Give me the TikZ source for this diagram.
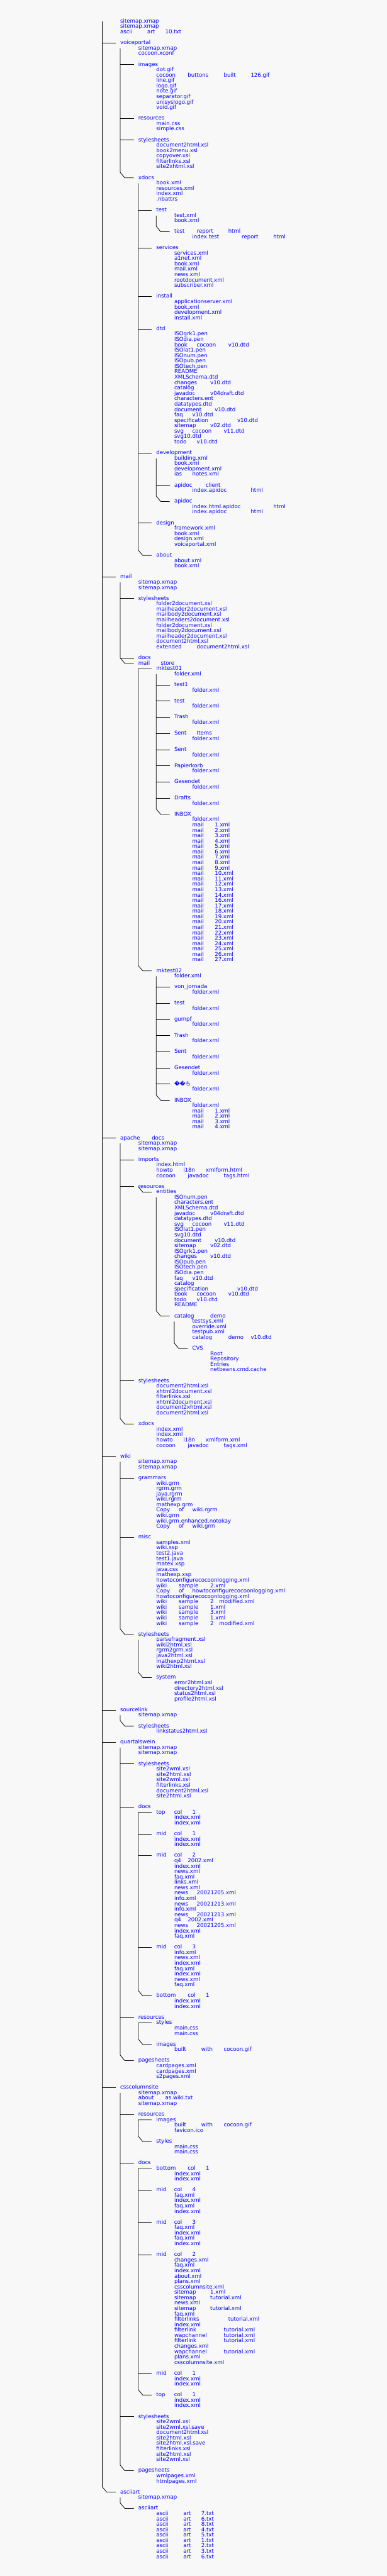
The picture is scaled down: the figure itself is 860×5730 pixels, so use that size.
\documentclass[tikz,border=0pt]{standalone}
\usepackage{fontspec}
\usetikzlibrary{calc}
\newfontfamily\treefont{DejaVu Sans}
\newfontfamily\cjkfont{Noto Sans CJK JP}
\definecolor{pagebg}{HTML}{F8F8F8}
\definecolor{fileblue}{HTML}{0000FF}
\definecolor{twigcolor}{HTML}{000000}

% one character cell of the listing
\newlength{\cellw}
\setlength{\cellw}{10pt}

% words of a name sit at their character column (underscore = gap)
\newcount\wordlen
\def\lenstop{\lenstop}
\def\lencount#1{\ifx#1\lenstop\else\advance\wordlen by 1\relax\expandafter\lencount\fi}
\def\spread#1{\spreadnext#1_\spreadend}
\def\spreadnext#1_#2\spreadend{%
  \wordlen=1\relax
  \lencount#1\lenstop
  \makebox[0pt][l]{#1}%
  \if\relax\detokenize{#2}\relax\else
    \hspace*{\wordlen\cellw}%
    \spreadnext#2\spreadend
  \fi}

% connectors: side branch, last branch (with vertical), first+last branch
\newcommand{\twig}[2]{\draw[twig] (#1 |- #2.west) -- ([xshift=-\cellw]#2.west);}
\newcommand{\lasttwig}[3]{\draw[twig] (#1 |- #2.west) -- ($(#1 |- #3.west)+(0,-1)$)
    -- ($(#1 |- #3.west)+(1,0)$) -- ([xshift=-\cellw]#3.west);}
\newcommand{\toptwig}[3]{\draw[twig] ([xshift=-\cellw]#2.west) -- (#1 |- #2.west)
    -- ($(#1 |- #3.west)+(0,-1)$) -- ($(#1 |- #3.west)+(1,0)$) -- ([xshift=-\cellw]#3.west);}

\begin{document}
\begin{tikzpicture}[
    x=10pt, y=-12pt, shift={(227.3pt,-47.5pt)},
    fname/.style={
        anchor=west, inner sep=0pt, text height=9pt, text depth=2.2pt,
        text=fileblue, font=\treefont\fontsize{12pt}{12pt}\selectfont
    },
    twig/.style={
        draw=twigcolor, line width=1.1pt
    }
]

% Page
\useasboundingbox (-227.3pt,47.5pt) rectangle (632.7pt,-5682.5pt);
\fill[pagebg] (-227.3pt,47.5pt) rectangle (632.7pt,-5682.5pt);

% Root of the tree
\coordinate (top) at (0,0);
\foreach \rw/\lbl in {0/sitemap.xmap,1/sitemap.xmap,2/\spread{ascii_art_10.txt}}
    \node[fname] (r\rw) at (4,\rw) {\lbl};

% voiceportal
\node[fname] (r4) at (4,4) {voiceportal};
\foreach \rw/\lbl in {5/sitemap.xmap,6/cocoon.xconf}
    \node[fname] (r\rw) at (8,\rw) {\lbl};
\node[fname] (r8) at (8,8) {images};
\foreach \rw/\lbl in {9/dot.gif,10/\spread{cocoon_buttons_built_126.gif},11/line.gif,12/logo.gif,
    13/note.gif,14/separator.gif,15/unisyslogo.gif,16/void.gif}
    \node[fname] (r\rw) at (12,\rw) {\lbl};
\node[fname] (r18) at (8,18) {resources};
\foreach \rw/\lbl in {19/main.css,20/simple.css}
    \node[fname] (r\rw) at (12,\rw) {\lbl};
\node[fname] (r22) at (8,22) {stylesheets};
\foreach \rw/\lbl in {23/document2html.xsl,24/book2menu.xsl,25/copyover.xsl,26/filterlinks.xsl,27/site2xhtml.xsl}
    \node[fname] (r\rw) at (12,\rw) {\lbl};
\node[fname] (r29) at (8,29) {xdocs};
\foreach \rw/\lbl in {30/book.xml,31/resources.xml,32/index.xml,33/.nbattrs}
    \node[fname] (r\rw) at (12,\rw) {\lbl};
\node[fname] (r35) at (12,35) {test};
\foreach \rw/\lbl in {36/test.xml,37/book.xml}
    \node[fname] (r\rw) at (16,\rw) {\lbl};
\node[fname] (r39) at (16,39) {\spread{test_report_html}};
\node[fname] (r40) at (20,40) {\spread{index.test_report_html}};
\node[fname] (r42) at (12,42) {services};
\foreach \rw/\lbl in {43/services.xml,44/a1net.xml,45/book.xml,46/mail.xml,47/news.xml,
    48/rootdocument.xml,49/subscriber.xml}
    \node[fname] (r\rw) at (16,\rw) {\lbl};
\node[fname] (r51) at (12,51) {install};
\foreach \rw/\lbl in {52/applicationserver.xml,53/book.xml,54/development.xml,55/install.xml}
    \node[fname] (r\rw) at (16,\rw) {\lbl};
\node[fname] (r57) at (12,57) {dtd};
\foreach \rw/\lbl in {58/ISOgrk1.pen,59/ISOdia.pen,60/\spread{book_cocoon_v10.dtd},61/ISOlat1.pen,
    62/ISOnum.pen,63/ISOpub.pen,64/ISOtech.pen,65/README,66/XMLSchema.dtd,67/\spread{changes_v10.dtd},
    68/catalog,69/\spread{javadoc_v04draft.dtd},70/characters.ent,71/datatypes.dtd,
    72/\spread{document_v10.dtd},73/\spread{faq_v10.dtd},74/\spread{specification_v10.dtd},
    75/\spread{sitemap_v02.dtd},76/\spread{svg_cocoon_v11.dtd},77/svg10.dtd,78/\spread{todo_v10.dtd}}
    \node[fname] (r\rw) at (16,\rw) {\lbl};
\node[fname] (r80) at (12,80) {development};
\foreach \rw/\lbl in {81/building.xml,82/book.xml,83/development.xml,84/\spread{ias_notes.xml}}
    \node[fname] (r\rw) at (16,\rw) {\lbl};
\node[fname] (r86) at (16,86) {\spread{apidoc_client}};
\node[fname] (r87) at (20,87) {\spread{index.apidoc_html}};
\node[fname] (r89) at (16,89) {apidoc};
\foreach \rw/\lbl in {90/\spread{index.html.apidoc_html},91/\spread{index.apidoc_html}}
    \node[fname] (r\rw) at (20,\rw) {\lbl};
\node[fname] (r93) at (12,93) {design};
\foreach \rw/\lbl in {94/framework.xml,95/book.xml,96/design.xml,97/voiceportal.xml}
    \node[fname] (r\rw) at (16,\rw) {\lbl};
\node[fname] (r99) at (12,99) {about};
\foreach \rw/\lbl in {100/about.xml,101/book.xml}
    \node[fname] (r\rw) at (16,\rw) {\lbl};

\twig{top}{r4}
\twig{r4.west}{r8}
\twig{r4.west}{r18}
\twig{r4.west}{r22}
\lasttwig{r4.west}{r5}{r29}
\foreach \d in {35,42,51,57,80,93}{
    \twig{r29.west}{r\d}
}
\lasttwig{r29.west}{r30}{r99}
\lasttwig{r35.west}{r36}{r39}
\twig{r80.west}{r86}
\lasttwig{r80.west}{r81}{r89}

% mail
\node[fname] (r103) at (4,103) {mail};
\foreach \rw/\lbl in {104/sitemap.xmap,105/sitemap.xmap}
    \node[fname] (r\rw) at (8,\rw) {\lbl};
\node[fname] (r107) at (8,107) {stylesheets};
\foreach \rw/\lbl in {108/folder2document.xsl,109/mailheader2document.xsl,110/mailbody2document.xsl,
    111/mailheaders2document.xsl,112/folder2document.xsl,113/mailbody2document.xsl,
    114/mailheader2document.xsl,115/document2html.xsl,116/\spread{extended_document2html.xsl}}
    \node[fname] (r\rw) at (12,\rw) {\lbl};
\node[fname] (r118) at (8,118) {docs};
\node[fname] (r119) at (8,119) {\spread{mail_store}};

% mail store / mktest01
\node[fname] (r120) at (12,120) {mktest01};
\node[fname] (r121) at (16,121) {folder.xml};
\foreach \rw/\lbl in {123/test1,126/test,129/Trash,132/\spread{Sent_Items},135/Sent,
    138/Papierkorb,141/Gesendet,144/Drafts}{
    \pgfmathtruncatemacro\frow{\rw+1}
    \node[fname] (r\rw) at (16,\rw) {\lbl};
    \node[fname] (r\frow) at (20,\frow) {folder.xml};
    \twig{r120.west}{r\rw}
}
\node[fname] (r147) at (16,147) {INBOX};
\node[fname] (r148) at (20,148) {folder.xml};
\foreach \rw in {149,...,162}{
    \pgfmathtruncatemacro\mailno{\rw-148}
    \node[fname] (r\rw) at (20,\rw) {\spread{mail_\mailno.xml}};
}
\foreach \rw in {163,...,174}{
    \pgfmathtruncatemacro\mailno{\rw-147}
    \node[fname] (r\rw) at (20,\rw) {\spread{mail_\mailno.xml}};
}
\lasttwig{r120.west}{r121}{r147}

% mail store / mktest02
\node[fname] (r176) at (12,176) {mktest02};
\node[fname] (r177) at (16,177) {folder.xml};
\foreach \rw/\lbl in {179/von\_jornada,182/test,185/gumpf,188/Trash,191/Sent,194/Gesendet}{
    \pgfmathtruncatemacro\frow{\rw+1}
    \node[fname] (r\rw) at (16,\rw) {\lbl};
    \node[fname] (r\frow) at (20,\frow) {folder.xml};
    \twig{r176.west}{r\rw}
}
\node[fname] (r197) at (16,197) {\char"FFFD\char"FFFD{\cjkfont ち}};
\node[fname] (r198) at (20,198) {folder.xml};
\twig{r176.west}{r197}
\node[fname] (r200) at (16,200) {INBOX};
\node[fname] (r201) at (20,201) {folder.xml};
\foreach \rw in {202,...,205}{
    \pgfmathtruncatemacro\mailno{\rw-201}
    \node[fname] (r\rw) at (20,\rw) {\spread{mail_\mailno.xml}};
}
\lasttwig{r176.west}{r177}{r200}

\twig{top}{r103}
\twig{r103.west}{r107}
\twig{r103.west}{r118}
\lasttwig{r103.west}{r104}{r119}
\toptwig{r119.west}{r120}{r176}

% apache docs
\node[fname] (r207) at (4,207) {\spread{apache_docs}};
\foreach \rw/\lbl in {208/sitemap.xmap,209/sitemap.xmap}
    \node[fname] (r\rw) at (8,\rw) {\lbl};
\node[fname] (r211) at (8,211) {imports};
\foreach \rw/\lbl in {212/index.html,213/\spread{howto_i18n_xmlform.html},214/\spread{cocoon_javadoc_tags.html}}
    \node[fname] (r\rw) at (12,\rw) {\lbl};
\node[fname] (r216) at (8,216) {resources};
\node[fname] (r217) at (12,217) {entities};
\foreach \rw/\lbl in {218/ISOnum.pen,219/characters.ent,220/XMLSchema.dtd,221/\spread{javadoc_v04draft.dtd},
    222/datatypes.dtd,223/\spread{svg_cocoon_v11.dtd},224/ISOlat1.pen,225/svg10.dtd,
    226/\spread{document_v10.dtd},227/\spread{sitemap_v02.dtd},228/ISOgrk1.pen,229/\spread{changes_v10.dtd},
    230/ISOpub.pen,231/ISOtech.pen,232/ISOdia.pen,233/\spread{faq_v10.dtd},234/catalog,
    235/\spread{specification_v10.dtd},236/\spread{book_cocoon_v10.dtd},237/\spread{todo_v10.dtd},238/README}
    \node[fname] (r\rw) at (16,\rw) {\lbl};
\node[fname] (r240) at (16,240) {\spread{catalog_demo}};
\foreach \rw/\lbl in {241/testsys.xml,242/override.xml,243/testpub.xml,244/\spread{catalog_demo_v10.dtd}}
    \node[fname] (r\rw) at (20,\rw) {\lbl};
\node[fname] (r246) at (20,246) {CVS};
\foreach \rw/\lbl in {247/Root,248/Repository,249/Entries,250/netbeans.cmd.cache}
    \node[fname] (r\rw) at (24,\rw) {\lbl};
\node[fname] (r252) at (8,252) {stylesheets};
\foreach \rw/\lbl in {253/document2html.xsl,254/xhtml2document.xsl,255/filterlinks.xsl,
    256/xhtml2document.xsl,257/document2xhtml.xsl,258/document2html.xsl}
    \node[fname] (r\rw) at (12,\rw) {\lbl};
\node[fname] (r260) at (8,260) {xdocs};
\foreach \rw/\lbl in {261/index.xml,262/index.xml,263/\spread{howto_i18n_xmlform.xml},264/\spread{cocoon_javadoc_tags.xml}}
    \node[fname] (r\rw) at (12,\rw) {\lbl};

\twig{top}{r207}
\twig{r207.west}{r211}
\twig{r207.west}{r216}
\twig{r207.west}{r252}
\lasttwig{r207.west}{r208}{r260}
\draw[twig] (r216.west) -- ($(r216.west |- r217.west)+(1,0)$) -- ([xshift=-\cellw]r217.west);
\lasttwig{r217.west}{r218}{r240}
\lasttwig{r240.west}{r241}{r246}

% wiki
\node[fname] (r266) at (4,266) {wiki};
\foreach \rw/\lbl in {267/sitemap.xmap,268/sitemap.xmap}
    \node[fname] (r\rw) at (8,\rw) {\lbl};
\node[fname] (r270) at (8,270) {grammars};
\foreach \rw/\lbl in {271/wiki.grm,272/rgrm.grm,273/java.rgrm,274/wiki.rgrm,275/mathexp.grm,
    276/\spread{Copy_of_wiki.rgrm},277/wiki.grm,278/wiki.grm.enhanced.notokay,279/\spread{Copy_of_wiki.grm}}
    \node[fname] (r\rw) at (12,\rw) {\lbl};
\node[fname] (r281) at (8,281) {misc};
\foreach \rw/\lbl in {282/samples.xml,283/wiki.xsp,284/test2.java,285/test1.java,286/matex.xsp,
    287/java.css,288/mathexp.xsp,289/howtoconfigurecocoonlogging.xml,290/\spread{wiki_sample_2.xml},
    291/\spread{Copy_of_howtoconfigurecocoonlogging.xml},292/howtoconfigurecocoonlogging.xml,
    293/\spread{wiki_sample_2_modified.xml},294/\spread{wiki_sample_1.xml},295/\spread{wiki_sample_3.xml},
    296/\spread{wiki_sample_1.xml},297/\spread{wiki_sample_2_modified.xml}}
    \node[fname] (r\rw) at (12,\rw) {\lbl};
\node[fname] (r299) at (8,299) {stylesheets};
\foreach \rw/\lbl in {300/parsefragment.xsl,301/wiki2html.xsl,302/rgrm2grm.xsl,303/java2html.xsl,
    304/mathexp2html.xsl,305/wiki2html.xsl}
    \node[fname] (r\rw) at (12,\rw) {\lbl};
\node[fname] (r307) at (12,307) {system};
\foreach \rw/\lbl in {308/error2html.xsl,309/directory2html.xsl,310/status2html.xsl,311/profile2html.xsl}
    \node[fname] (r\rw) at (16,\rw) {\lbl};

\twig{top}{r266}
\twig{r266.west}{r270}
\twig{r266.west}{r281}
\lasttwig{r266.west}{r267}{r299}
\lasttwig{r299.west}{r300}{r307}

% sourcelink
\node[fname] (r313) at (4,313) {sourcelink};
\node[fname] (r314) at (8,314) {sitemap.xmap};
\node[fname] (r316) at (8,316) {stylesheets};
\node[fname] (r317) at (12,317) {linkstatus2html.xsl};

\twig{top}{r313}
\lasttwig{r313.west}{r314}{r316}

% quartalswein
\node[fname] (r319) at (4,319) {quartalswein};
\foreach \rw/\lbl in {320/sitemap.xmap,321/sitemap.xmap}
    \node[fname] (r\rw) at (8,\rw) {\lbl};
\node[fname] (r323) at (8,323) {stylesheets};
\foreach \rw/\lbl in {324/site2wml.xsl,325/site2html.xsl,326/site2wml.xsl,327/filterlinks.xsl,
    328/document2html.xsl,329/site2html.xsl}
    \node[fname] (r\rw) at (12,\rw) {\lbl};
\node[fname] (r331) at (8,331) {docs};
\node[fname] (r332) at (12,332) {\spread{top_col_1}};
\foreach \rw/\lbl in {333/index.xml,334/index.xml}
    \node[fname] (r\rw) at (16,\rw) {\lbl};
\node[fname] (r336) at (12,336) {\spread{mid_col_1}};
\foreach \rw/\lbl in {337/index.xml,338/index.xml}
    \node[fname] (r\rw) at (16,\rw) {\lbl};
\node[fname] (r340) at (12,340) {\spread{mid_col_2}};
\foreach \rw/\lbl in {341/\spread{q4_2002.xml},342/index.xml,343/news.xml,344/faq.xml,345/links.xml,
    346/news.xml,347/\spread{news_20021205.xml},348/info.xml,349/\spread{news_20021213.xml},350/info.xml,
    351/\spread{news_20021213.xml},352/\spread{q4_2002.xml},353/\spread{news_20021205.xml},354/index.xml,355/faq.xml}
    \node[fname] (r\rw) at (16,\rw) {\lbl};
\node[fname] (r357) at (12,357) {\spread{mid_col_3}};
\foreach \rw/\lbl in {358/info.xml,359/news.xml,360/index.xml,361/faq.xml,362/index.xml,363/news.xml,364/faq.xml}
    \node[fname] (r\rw) at (16,\rw) {\lbl};
\node[fname] (r366) at (12,366) {\spread{bottom_col_1}};
\foreach \rw/\lbl in {367/index.xml,368/index.xml}
    \node[fname] (r\rw) at (16,\rw) {\lbl};
\node[fname] (r370) at (8,370) {resources};
\node[fname] (r371) at (12,371) {styles};
\foreach \rw/\lbl in {372/main.css,373/main.css}
    \node[fname] (r\rw) at (16,\rw) {\lbl};
\node[fname] (r375) at (12,375) {images};
\node[fname] (r376) at (16,376) {\spread{built_with_cocoon.gif}};
\node[fname] (r378) at (8,378) {pagesheets};
\foreach \rw/\lbl in {379/cardpages.xml,380/cardpages.xml,381/s2pages.xml}
    \node[fname] (r\rw) at (12,\rw) {\lbl};

\twig{top}{r319}
\twig{r319.west}{r323}
\twig{r319.west}{r331}
\twig{r319.west}{r370}
\lasttwig{r319.west}{r320}{r378}
\toptwig{r331.west}{r332}{r366}
\foreach \d in {336,340,357}{
    \twig{r331.west}{r\d}
}
\toptwig{r370.west}{r371}{r375}

% csscolumnsite
\node[fname] (r383) at (4,383) {csscolumnsite};
\foreach \rw/\lbl in {384/sitemap.xmap,385/\spread{about_as.wiki.txt},386/sitemap.xmap}
    \node[fname] (r\rw) at (8,\rw) {\lbl};
\node[fname] (r388) at (8,388) {resources};
\node[fname] (r389) at (12,389) {images};
\foreach \rw/\lbl in {390/\spread{built_with_cocoon.gif},391/favicon.ico}
    \node[fname] (r\rw) at (16,\rw) {\lbl};
\node[fname] (r393) at (12,393) {styles};
\foreach \rw/\lbl in {394/main.css,395/main.css}
    \node[fname] (r\rw) at (16,\rw) {\lbl};
\node[fname] (r397) at (8,397) {docs};
\node[fname] (r398) at (12,398) {\spread{bottom_col_1}};
\foreach \rw/\lbl in {399/index.xml,400/index.xml}
    \node[fname] (r\rw) at (16,\rw) {\lbl};
\node[fname] (r402) at (12,402) {\spread{mid_col_4}};
\foreach \rw/\lbl in {403/faq.xml,404/index.xml,405/faq.xml,406/index.xml}
    \node[fname] (r\rw) at (16,\rw) {\lbl};
\node[fname] (r408) at (12,408) {\spread{mid_col_3}};
\foreach \rw/\lbl in {409/faq.xml,410/index.xml,411/faq.xml,412/index.xml}
    \node[fname] (r\rw) at (16,\rw) {\lbl};
\node[fname] (r414) at (12,414) {\spread{mid_col_2}};
\foreach \rw/\lbl in {415/changes.xml,416/faq.xml,417/index.xml,418/about.xml,419/plans.xml,
    420/csscolumnsite.xml,421/\spread{sitemap_1.xml},422/\spread{sitemap_tutorial.xml},423/news.xml,
    424/\spread{sitemap_tutorial.xml},425/faq.xml,426/\spread{filterlinks_tutorial.xml},427/index.xml,
    428/\spread{filterlink_tutorial.xml},429/\spread{wapchannel_tutorial.xml},430/\spread{filterlink_tutorial.xml},
    431/changes.xml,432/\spread{wapchannel_tutorial.xml},433/plans.xml,434/csscolumnsite.xml}
    \node[fname] (r\rw) at (16,\rw) {\lbl};
\node[fname] (r436) at (12,436) {\spread{mid_col_1}};
\foreach \rw/\lbl in {437/index.xml,438/index.xml}
    \node[fname] (r\rw) at (16,\rw) {\lbl};
\node[fname] (r440) at (12,440) {\spread{top_col_1}};
\foreach \rw/\lbl in {441/index.xml,442/index.xml}
    \node[fname] (r\rw) at (16,\rw) {\lbl};
\node[fname] (r444) at (8,444) {stylesheets};
\foreach \rw/\lbl in {445/site2wml.xsl,446/site2wml.xsl.save,447/document2html.xsl,448/site2html.xsl,
    449/site2html.xsl.save,450/filterlinks.xsl,451/site2html.xsl,452/site2wml.xsl}
    \node[fname] (r\rw) at (12,\rw) {\lbl};
\node[fname] (r454) at (8,454) {pagesheets};
\foreach \rw/\lbl in {455/wmlpages.xml,456/htmlpages.xml}
    \node[fname] (r\rw) at (12,\rw) {\lbl};

\twig{top}{r383}
\twig{r383.west}{r388}
\twig{r383.west}{r397}
\twig{r383.west}{r444}
\lasttwig{r383.west}{r384}{r454}
\toptwig{r388.west}{r389}{r393}
\toptwig{r397.west}{r398}{r440}
\foreach \d in {402,408,414,436}{
    \twig{r397.west}{r\d}
}

% asciiart
\node[fname] (r458) at (4,458) {asciiart};
\node[fname] (r459) at (8,459) {sitemap.xmap};
\node[fname] (r461) at (8,461) {asciiart};
\foreach \rw/\n in {462/7,463/6,464/8,465/4,466/5,467/1,468/2,469/3,470/6}
    \node[fname] (r\rw) at (12,\rw) {\spread{ascii_art_\n.txt}};

\lasttwig{top}{r0}{r458}
\lasttwig{r458.west}{r459}{r461}

\end{tikzpicture}
\end{document}
